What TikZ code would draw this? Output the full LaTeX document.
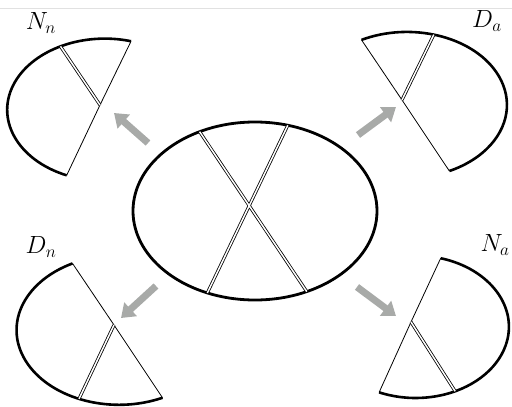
\documentclass[tikz,border=0pt]{standalone}
\usetikzlibrary{arrows.meta,calc}
\definecolor{arrowgray}{RGB}{168,170,168}
\definecolor{rulegray}{RGB}{225,225,225}
\tikzset{
  thickarc/.style={line width=2.6pt},
  thinline/.style={line width=0.8pt},
  dbl/.style={double, line width=0.8pt, double distance=1.5pt},
  bigarrow/.style={draw=arrowgray, line width=7pt, -{Triangle[length=13pt,width=18pt,fill=arrowgray]}},
  lbl/.style={inner sep=0pt, font=\fontsize{24}{28}\selectfont}
}
\newcommand{\setpts}{%
  \coordinate (O) at (0,0);
  \coordinate (E) at (6,-6);
  \coordinate (TL) at ($(E)+(117:122 and 89)$);
  \coordinate (TR) at ($(E)+(74.4:122 and 89)$);
  \coordinate (BR) at ($(E)+(-64.9:122 and 89)$);
  \coordinate (BL) at ($(E)+(247:122 and 89)$);
}
\begin{document}
\begin{tikzpicture}[x=1pt,y=1pt]
\useasboundingbox (0,0) rectangle (512,-407);
\coordinate (r1) at (0,-8);
\coordinate (r2) at (512,-8);
\draw[rulegray, line width=0.8pt] (r1) -- (r2);

% central ellipse
\begin{scope}[shift={(249,-205)}]
  \setpts
  \draw[line width=2.8pt] (E) ellipse[x radius=122, y radius=89];
  \draw[dbl] (TL) -- (BR) (TR) -- (BL);
\end{scope}

% N_n : left + top
\begin{scope}[shift={(100,-105)}, scale=0.8]
  \setpts
  \draw[thickarc] (BL) arc[start angle=247, end angle=74.4, x radius=122, y radius=89];
  \draw[thinline] (BL) -- (O) -- (TR);
  \draw[dbl] (O) -- (TL);
\end{scope}

% D_a : top + right
\begin{scope}[shift={(402,-100)}, scale=0.82]
  \setpts
  \draw[thickarc] (TL) arc[start angle=117, end angle=-64.9, x radius=122, y radius=89];
  \draw[thinline] (TL) -- (O) -- (BR);
  \draw[dbl] (O) -- (TR);
\end{scope}

% D_n : left + bottom
\begin{scope}[shift={(114,-325)}, scale=0.84]
  \setpts
  \draw[thickarc] (TL) arc[start angle=117, end angle=295.1, x radius=122, y radius=89];
  \draw[thinline] (TL) -- (O) -- (BR);
  \draw[dbl] (O) -- (BL);
\end{scope}

% N_a : right + bottom
\begin{scope}[shift={(411,-322)}, xscale=0.765, yscale=0.8]
  \setpts
  \draw[thickarc] (TR) arc[start angle=74.4, end angle=-113, x radius=122, y radius=89];
  \draw[thinline] (TR) -- (O) -- (BL);
  \draw[dbl] (O) -- (BR);
\end{scope}

% arrows
\coordinate (a1t) at (148,-143); \coordinate (a1h) at (114,-113);
\coordinate (a2t) at (358,-135); \coordinate (a2h) at (396,-107);
\coordinate (a3t) at (156,-286); \coordinate (a3h) at (121,-318);
\coordinate (a4t) at (357,-287); \coordinate (a4h) at (396,-316);
\draw[bigarrow] (a1t) -- (a1h);
\draw[bigarrow] (a2t) -- (a2h);
\draw[bigarrow] (a3t) -- (a3h);
\draw[bigarrow] (a4t) -- (a4h);

% labels
\node[lbl] (lNn) at (41,-23) {$N_n$};
\node[lbl] (lDa) at (487,-21) {$D_a$};
\node[lbl] (lDn) at (41,-247) {$D_n$};
\node[lbl] (lNa) at (495,-245) {$N_a$};
\end{tikzpicture}
\end{document}
